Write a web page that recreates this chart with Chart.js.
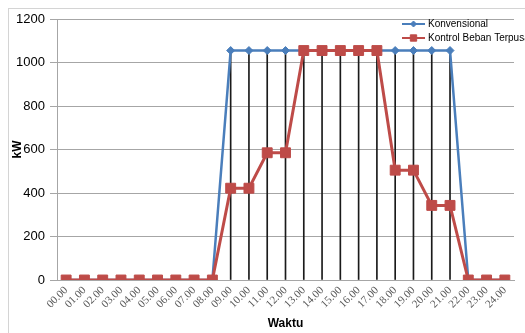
<!DOCTYPE html>
<html lang="id">
<head>
  <meta charset="UTF-8" />
  <title>Beban kW</title>
  <script src="https://cdn.jsdelivr.net/npm/chart.js"></script>
  <style>
    html, body { margin: 0; padding: 0; background: #fff; }
    #wadah { position: relative; width: 525px; height: 333px; }
  </style>
</head>
<body>
  <div id="wadah">
    <canvas id="grafikBeban" width="525" height="333"></canvas>
  </div>

  <script>
    // data
    const waktu = ["00.00", "01.00", "02.00", "03.00", "04.00", "05.00", "06.00", "07.00", "08.00",
      "09.00", "10.00", "11.00", "12.00", "13.00", "14.00", "15.00", "16.00", "17.00", "18.00",
      "19.00", "20.00", "21.00", "22.00", "23.00", "24.00"];
    const konvensional = [0, 0, 0, 0, 0, 0, 0, 0, 0,
      1055, 1055, 1055, 1055, 1055, 1055, 1055, 1055, 1055, 1055, 1055, 1055, 1055,
      0, 0, 0];
    const kontrolTerpusat = [0, 0, 0, 0, 0, 0, 0, 0, 0,
      422, 422, 585, 585, 1055, 1055, 1055, 1055, 1055, 505, 505, 343, 343,
      0, 0, 0];
    const tickKw = [0, 200, 400, 600, 800, 1000, 1200];

    const biru = "#4a7ebb";
    const merah = "#be4b48";

    // bingkai abu-abu di sekeliling grafik
    const bingkai = {
      id: "bingkai",
      beforeDraw(chart) {
        const ctx = chart.ctx;
        ctx.save();
        ctx.strokeStyle = "#d4d4d4";
        ctx.lineWidth = 1;
        ctx.strokeRect(8.5, 8.5, 540, 340);
        ctx.restore();
      },
    };

    // legenda di dalam area plot, kanan atas
    const legendaDalam = {
      id: "legendaDalam",
      afterDraw(chart) {
        const ctx = chart.ctx;
        const item = [
          { teks: "Konvensional", idx: 0, y: 24 },
          { teks: "Kontrol Beban Terpusat", idx: 1, y: 38 },
        ];
        ctx.save();
        item.forEach(function (it) {
          const ds = chart.data.datasets[it.idx];
          ctx.strokeStyle = ds.borderColor;
          ctx.lineWidth = 2;
          ctx.beginPath();
          ctx.moveTo(402, it.y);
          ctx.lineTo(425, it.y);
          ctx.stroke();
          ctx.fillStyle = ds.pointBackgroundColor;
          ctx.strokeStyle = ds.pointBorderColor;
          ctx.lineWidth = 1;
          Chart.helpers.drawPoint(ctx, {
            pointStyle: ds.pointStyle,
            radius: it.idx === 0 ? 3 : 4.5,
            borderWidth: 1,
            rotation: 0,
          }, 413.5, it.y);
          ctx.fillStyle = "#000";
          ctx.font = "10px 'Liberation Sans', Arial, sans-serif";
          ctx.textBaseline = "middle";
          ctx.textAlign = "left";
          ctx.fillText(it.teks, 428, it.y);
        });
        ctx.restore();
      },
    };

    const ctxBeban = document.getElementById("grafikBeban").getContext("2d");
    const grafikBeban = new Chart(ctxBeban, {
      type: "line",
      data: {
        labels: waktu,
        datasets: [
          {
            label: "Konvensional",
            data: konvensional,
            borderColor: biru,
            borderWidth: 2.5,
            pointStyle: "rectRot",
            pointRadius: 4,
            pointBackgroundColor: biru,
            pointBorderColor: biru,
            pointBorderWidth: 1,
            tension: 0,
            order: 1,
          },
          {
            label: "Kontrol Beban Terpusat",
            data: kontrolTerpusat,
            borderColor: merah,
            borderWidth: 3,
            pointStyle: "rect",
            pointRadius: 7,
            pointBackgroundColor: merah,
            pointBorderColor: merah,
            pointBorderWidth: 1,
            tension: 0,
            order: 0,
          },
          {
            // garis jatuh (drop lines) dari seri konvensional
            type: "bar",
            label: "drop",
            data: konvensional,
            backgroundColor: "#1a1a1a",
            barThickness: 1,
            order: 2,
          },
        ],
      },
      options: {
        responsive: false,
        animation: false,
        devicePixelRatio: 1,
        layout: {
          padding: { top: 19, right: 11, bottom: 0, left: 0 },
        },
        plugins: {
          legend: { display: false },
          tooltip: { enabled: false },
        },
        scales: {
          x: {
            offset: true,
            grid: { display: false, drawTicks: false },
            border: { display: true, color: "#a6a6a6" },
            ticks: {
              minRotation: 45,
              maxRotation: 45,
              autoSkip: false,
              padding: 4,
              color: "#595959",
              font: { family: "'Liberation Serif', serif", size: 11 },
            },
            title: {
              display: true,
              text: "Waktu",
              color: "#000",
              font: { family: "'Liberation Sans', Arial, sans-serif", size: 12, weight: "bold" },
              padding: { top: 0, bottom: 2 },
            },
            afterFit(scale) {
              scale.height = 53;
            },
          },
          y: {
            min: 0,
            max: 1200,
            afterBuildTicks(scale) {
              scale.ticks = tickKw.map(function (v) { return { value: v }; });
            },
            grid: {
              color: "#a6a6a6",
              lineWidth: 1,
              tickLength: 7,
              drawTicks: true,
            },
            border: { display: true, color: "#a6a6a6" },
            ticks: {
              autoSkip: false,
              padding: 5,
              color: "#000",
              font: { family: "'Liberation Sans', Arial, sans-serif", size: 13 },
              callback: function (v) { return String(v); },
            },
            title: {
              display: true,
              text: "kW",
              color: "#000",
              font: { family: "'Liberation Sans', Arial, sans-serif", size: 12, weight: "bold" },
              padding: { top: 10, bottom: 0 },
            },
            afterFit(scale) {
              scale.width = 57;
            },
          },
        },
      },
      plugins: [bingkai, legendaDalam],
    });
  </script>
</body>
</html>
